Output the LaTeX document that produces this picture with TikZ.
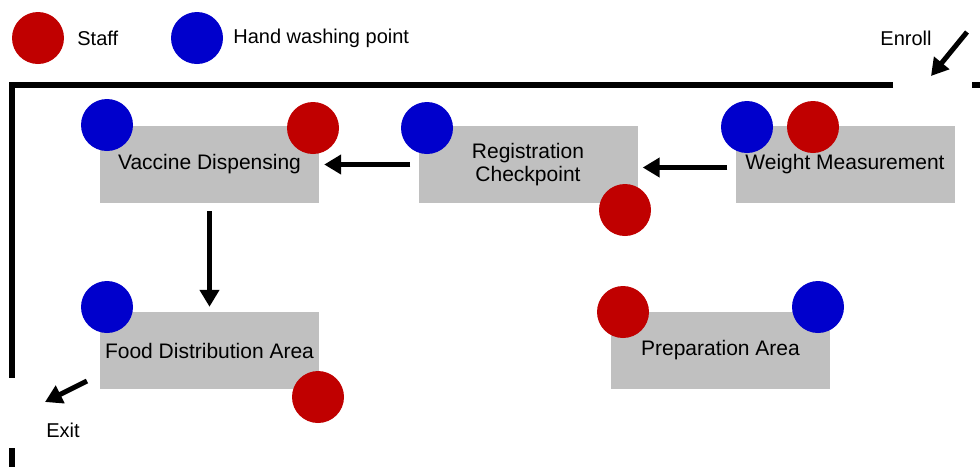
\documentclass[tikz,border=0pt]{standalone}
\usepackage{fontspec}
\setmainfont{Liberation Sans}
\usetikzlibrary{arrows.meta, positioning}

\definecolor{staffred}{RGB}{192,0,0}
\definecolor{washblue}{RGB}{0,0,204}
\definecolor{areagray}{RGB}{192,192,192}

\tikzset{
  area/.style={fill=areagray, minimum width=219pt, minimum height=77pt, inner sep=0pt, align=center,
    font=\fontsize{21}{23}\selectfont},
  staff/.style={circle, fill=staffred, minimum size=52pt, inner sep=0pt},
  wash/.style={circle, fill=washblue, minimum size=52pt, inner sep=0pt},
  keytext/.style={inner sep=0pt, anchor=west},
  flow/.style={line width=5pt, -{Triangle[length=17pt,width=19pt]}, shorten <=8pt, shorten >=5pt},
  doorway/.style={line width=5pt, -{Triangle[length=17pt,width=19pt]}},
  wall/.style={line width=6pt}
}

\begin{document}
\begin{tikzpicture}[x=1pt, y=-1pt, font=\fontsize{20}{23}\selectfont]
\useasboundingbox (0,0) rectangle (980,467);

% Legend
\node[staff] (staffkey) at (38,38) {};
\node[keytext, right=13pt of staffkey] (stafftext) {Staff};
\node[wash] (washkey) at (197,38) {};
\node[keytext, right=10pt of washkey] (washtext) {Hand washing point};

% Walls of the site
\draw[wall] (893,85) -- (12,85) -- (12,378);
\draw[wall] (972,85) -- (980,85);
\draw[wall] (12,448) -- (12,467);

% Areas
\node[area] (vac) at (209.5,164.5) {Vaccine Dispensing};
\node[area] (reg) at (528,164.5) {Registration\\Checkpoint};
\node[area] (wgt) at (845,164.5) {Weight Measurement};
\node[area] (food) at (209.5,350.5) {Food Distribution Area};
\node[area] (prep) at (720.5,350.5) {Preparation Area};

% Hand washing points and staff
\node[wash] (vacwash) at (107,125) {};
\node[staff] (vacstaff) at (313,128) {};
\node[wash] (regwash) at (427,128) {};
\node[staff] (regstaff) at (625,210) {};
\node[wash] (wgtwash) at (747,127) {};
\node[staff] (wgtstaff) at (813,127) {};
\node[wash] (foodwash) at (107,307) {};
\node[staff] (foodstaff) at (318,397) {};
\node[staff] (prepstaff) at (623,312) {};
\node[wash] (prepwash) at (818,307) {};

% Flow of visitors
\draw[flow] ([yshift=-3pt]wgt.west) -- ([yshift=-3pt]reg.east);
\draw[flow] (reg.west) -- (vac.east);
\draw[flow] (vac.south) -- (food.north);

% Enroll and exit
\node (enroll) at (906,38) {Enroll};
\coordinate (enrolltail) at (967,32);
\coordinate (enrollhead) at (931,76);
\draw[doorway] (enrolltail) -- (enrollhead);

\node (exit) at (63,430) {Exit};
\coordinate (exittail) at (87,381);
\coordinate (exithead) at (45,402);
\draw[doorway] (exittail) -- (exithead);
\end{tikzpicture}
\end{document}
